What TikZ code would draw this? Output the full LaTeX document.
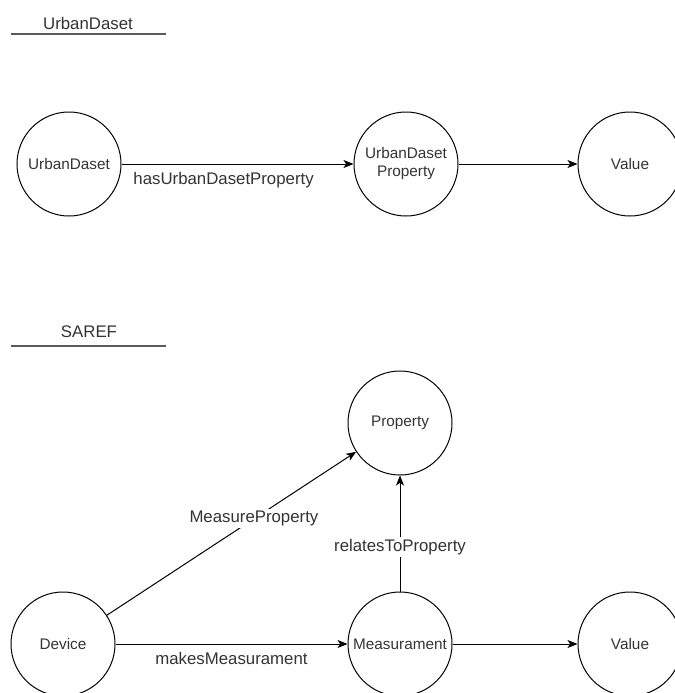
\documentclass[tikz,border=0pt]{standalone}
\usepackage{fontspec}
\setmainfont{Liberation Sans}
\usetikzlibrary{arrows.meta}

\begin{document}
\begin{tikzpicture}[
  x=0.75pt,y=-0.75pt,
  font=\fontsize{11.5}{13.5}\selectfont,
  text=black!80,
  ent/.style={draw,circle,minimum size=78pt,inner sep=0pt,align=center,line width=0.75pt},
  lbl/.style={font=\fontsize{12.6}{14}\selectfont,inner sep=1.5pt},
  hdr/.style={font=\fontsize{12.6}{14}\selectfont},
  rule/.style={draw=black!65,line width=1.3pt},
  rel/.style={->,line width=0.75pt},
  >={Stealth[length=7.5pt,width=6pt,inset=2pt]}
]
\useasboundingbox (0,0) rectangle (675,693);

% ---------------- UrbanDaset ----------------
\node[hdr] (hdUrban) at (88,23) {UrbanDaset};
\draw[rule] (11,34) -- (166,34);
\node[ent] (ud) at (69,164) {UrbanDaset};
\node[ent] (udp) at (406,164) {UrbanDaset\\Property};
\node[ent] (val1) at (630,164) {Value};
\draw[rel] (ud) -- node[lbl,below=4.5pt,pos=0.44]{hasUrbanDasetProperty} (udp);
\draw[rel] (udp) -- (val1);

% ---------------- SAREF ----------------
\node[hdr] (hdSaref) at (89,332) {SAREF};
\draw[rule] (11,346) -- (166,346);
\node[ent] (prop) at (400,423) {Property};
\node[ent] (dev) at (63,644) {Device};
\node[ent] (meas) at (400,644) {Measurament};
\node[ent] (val2) at (630,644) {Value};
\draw[rel] (dev) -- node[lbl,fill=white,pos=0.59]{MeasureProperty} (prop);
\draw[rel] (dev) -- node[lbl,below=4pt]{makesMeasurament} (meas);
\draw[rel] (meas) -- node[lbl,fill=white,pos=0.385]{relatesToProperty} (prop);
\draw[rel] (meas) -- (val2);
\end{tikzpicture}
\end{document}
